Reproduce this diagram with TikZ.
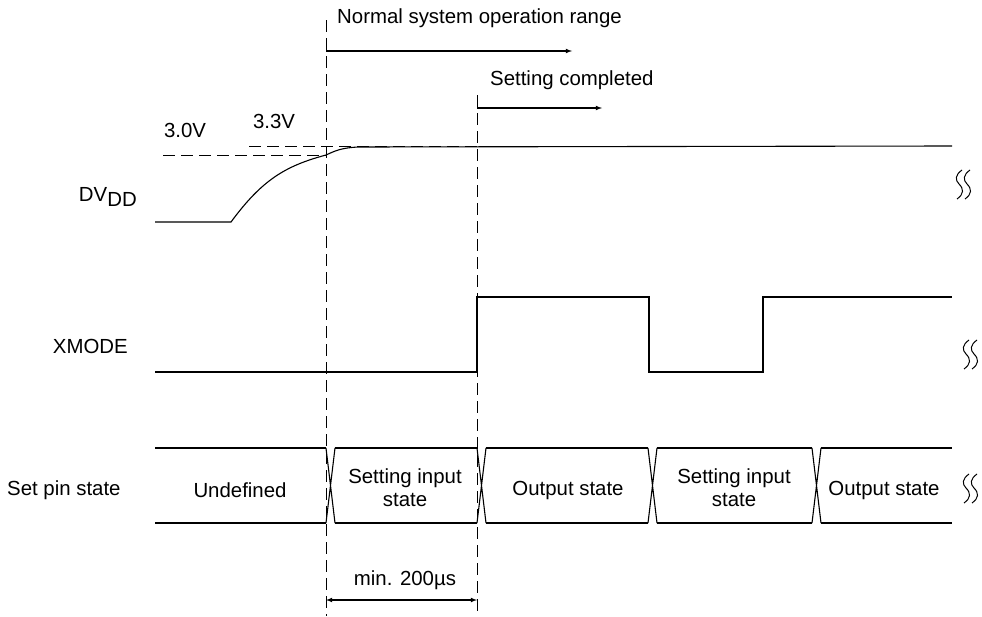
\documentclass[tikz,border=0pt]{standalone}
\usepackage{fontspec}
\setmainfont{Liberation Sans}
\tikzset{
  sig/.style={line width=1.1pt},
  guide/.style={line width=0.9pt, dash pattern=on 12pt off 6pt},
  lbl/.style={font=\fontsize{20.4}{23}\selectfont, inner sep=0pt},
  brk/.pic={\foreach \d in {0,8}{\draw[line width=1pt] (\d+4,0) .. controls (\d-3,5) and (\d-3,10) .. (\d+1,14) .. controls (\d+6,19) and (\d+6,24) .. (\d-1,29);}}
}
\begin{document}
\begin{tikzpicture}[x=1pt, y=-1pt, >=latex]
\useasboundingbox (0,0) rectangle (982,616);
\coordinate (on) at (326,0);
\coordinate (done) at (477,0);

\draw[guide] (326,20)--(326,616);
\draw[guide] (477,95)--(477,616);

\node[lbl, right] (normal) at (337,18) {Normal system operation range};
\draw[sig, ->] (326,51)--(572,51);
\node[lbl, right] (setdone) at (490,80) {Setting completed};
\draw[sig, ->] (477,108)--(602,108);

\node[lbl] (v30) at (185,130) {3.0V};
\node[lbl] (v33) at (274,121) {3.3V};
\draw[guide] (163,155)--(326,155);
\draw[guide] (249,146)--(477,146);

\node[lbl, left] (dvdd) at (137,197) {DV\raisebox{-0.5ex}{DD}};
\draw[sig] (155,222)--(231,222) .. controls (262,180) and (285,166) .. (326,155)
  .. controls (335,151) and (340,148) .. (358,147) -- (952,146);

\node[lbl, left] (xmode) at (128,346) {XMODE};
\draw[sig] (155,372)--(477,372)--(477,297)--(649,297)--(649,372)--(763,372)--(763,297)--(952,297);

\node[lbl, right] (pin) at (7,490) {Set pin state};
\foreach \a/\b in {155/326,335/477,486/648,657/812,821/952}
{
	\draw[sig] (\a,448)--(\b,448) (\a,523)--(\b,523);
}
\foreach \a/\b in {326/335,477/486,648/657,812/821}
{
	\draw[sig] (\a,448)--(\b,523) (\b,448)--(\a,523);
}
\node[lbl] (undef) at (240,490) {Undefined};
\node[lbl, align=center] (in1) at (405,488) {Setting input\\state};
\node[lbl] (out1) at (568,490) {Output state};
\node[lbl, align=center] (in2) at (734,488) {Setting input\\state};
\node[lbl] (out2) at (884,490) {Output state};

\pic at (958,170) {brk};
\pic at (965,340) {brk};
\pic at (965,474) {brk};

\node[lbl] (tmin) at (405,580) {min. 200\textmu s};
\draw[sig, <->] (326,600)--(477,600);
\end{tikzpicture}
\end{document}
